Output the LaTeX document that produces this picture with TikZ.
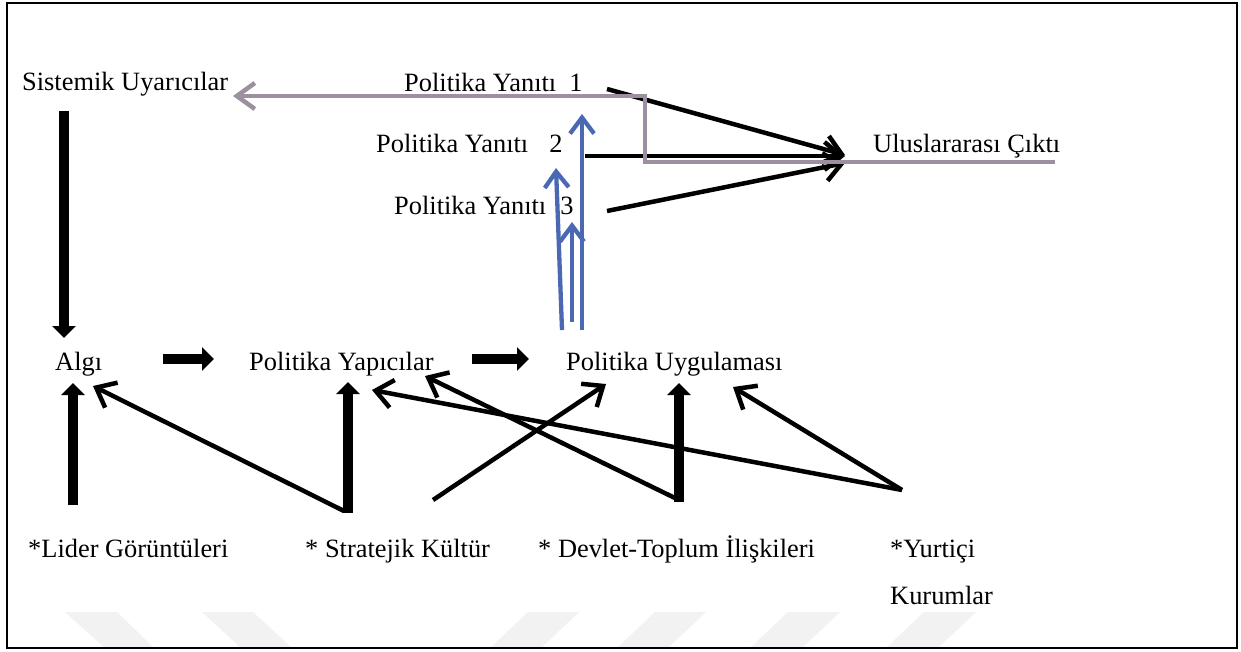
\documentclass[tikz,border=0pt]{standalone}
\usepackage{fontspec}
\setmainfont{Liberation Serif}
\usetikzlibrary{arrows.meta}
\definecolor{grayline}{HTML}{9C8FA0}
\definecolor{blueline}{HTML}{4A69B2}
\definecolor{wmark}{HTML}{F2F2F2}
\begin{document}
\begin{tikzpicture}[x=1pt,y=-1pt,
  lbl/.style={anchor=base west,inner sep=0pt,font=\fontsize{26.4}{30}\selectfont},
  thin/.style={line width=4.5pt,-{Straight Barb[length=17pt,width=28pt]}},
  gline/.style={line width=4.5pt,draw=grayline,line join=miter,-{Straight Barb[length=18pt,width=26pt]}},
  bline/.style={line width=4.3pt,draw=blueline,-{Straight Barb[length=16pt,width=24pt]}},
  block/.style={line width=10pt,-{Triangle[length=12pt,width=23pt]}}]
\useasboundingbox (0,0) rectangle (1241,652);
\fill[white] (0,0) rectangle (1241,652);
% watermark stripes
\begin{scope}
\clip (7,3) rectangle (1237,648);
\fill[wmark] (65,612) -- (117,612) -- (154,648) -- (105,648) -- cycle;
\fill[wmark] (202,612) -- (253,612) -- (292,648) -- (241,648) -- cycle;
\fill[wmark] (528,612) -- (579,612) -- (541,648) -- (490,648) -- cycle;
\fill[wmark] (655,612) -- (706,612) -- (668,648) -- (617,648) -- cycle;
\fill[wmark] (788,612) -- (840,612) -- (802,648) -- (750,648) -- cycle;
\fill[wmark] (924,612) -- (976,612) -- (938,648) -- (886,648) -- cycle;
\end{scope}
\draw[line width=2.2pt] (7,3) rectangle (1237,648);
% labels
\node[lbl] (sis) at (22,91) {Sistemik Uyarıcılar};
\node[lbl] (py1) at (404,92) {Politika Yanıtı\hspace{13pt}1};
\node[lbl] (py2) at (376,153) {Politika Yanıtı\hspace{21pt}2};
\node[lbl] (py3) at (394,215) {Politika Yanıtı\hspace{14pt}3};
\node[lbl] (uc) at (873,153) {Uluslararası Çıktı};
\node[lbl] (algi) at (55,370) {Algı};
\node[lbl] (yap) at (249,370) {Politika Yapıcılar};
\node[lbl] (uyg) at (566,370) {Politika Uygulaması};
\node[lbl] (lider) at (28,557) {*Lider Görüntüleri};
\node[lbl] (strat) at (305,557) {* Stratejik Kültür};
\node[lbl] (devlet) at (538,557) {* Devlet-Toplum İlişkileri};
\node[lbl] (yurt) at (890,557) {*Yurtiçi};
\node[lbl] (kurum) at (890,604) {Kurumlar};
% connector end points
\coordinate (sisS) at (64,111);
\coordinate (algiN) at (64,338);
\coordinate (algiE) at (163,359);
\coordinate (yapW) at (214,359);
\coordinate (yapE) at (472,359);
\coordinate (uygW) at (529,359);
\coordinate (liderN) at (73,505);
\coordinate (algiS) at (73,383);
\coordinate (stratN) at (348,513);
\coordinate (yapS) at (348,382);
\coordinate (devletN) at (679,502);
\coordinate (uygS) at (679,383);
\coordinate (stratA) at (344,511);
\coordinate (algiSE) at (93,386);
\coordinate (stratB) at (433,500);
\coordinate (uygSW) at (606,384);
\coordinate (devletA) at (679,500);
\coordinate (yapSE) at (425,376);
\coordinate (yurtN) at (902,490);
\coordinate (yapS2) at (372,390);
\coordinate (uygSE) at (733,387);
\coordinate (py1E) at (607,89);
\coordinate (py2E) at (585,156);
\coordinate (py3E) at (607,211);
\coordinate (ucW1) at (845,155);
\coordinate (ucW2) at (845,156);
\coordinate (ucW3) at (845,163);
\coordinate (ucE) at (1055,162);
\coordinate (g1) at (645,162);
\coordinate (g2) at (645,96);
\coordinate (sisE) at (233,96);
\coordinate (b1s) at (562,330);
\coordinate (b1t) at (556,168);
\coordinate (b2s) at (572,322);
\coordinate (b2t) at (572,222);
\coordinate (b3s) at (582,330);
\coordinate (b3t) at (582,114);
% block arrows
\draw[block] (sisS) -- (algiN);
\draw[block] (algiE) -- (yapW);
\draw[block] (yapE) -- (uygW);
\draw[block] (liderN) -- (algiS);
\draw[block] (stratN) -- (yapS);
\draw[block] (devletN) -- (uygS);
% thin black arrows
\draw[thin] (stratA) -- (algiSE);
\draw[thin] (stratB) -- (uygSW);
\draw[thin] (devletA) -- (yapSE);
\draw[thin] (yurtN) -- (yapS2);
\draw[thin] (yurtN) -- (uygSE);
\draw[thin] (py1E) -- (ucW1);
\draw[thin] (py2E) -- (ucW2);
\draw[thin] (py3E) -- (ucW3);
% blue arrows
\draw[bline] (b1s) -- (b1t);
\draw[bline] (b2s) -- (b2t);
\draw[bline] (b3s) -- (b3t);
% gray feedback line
\draw[gline] (ucE) -- (g1) -- (g2) -- (sisE);
\end{tikzpicture}
\end{document}
